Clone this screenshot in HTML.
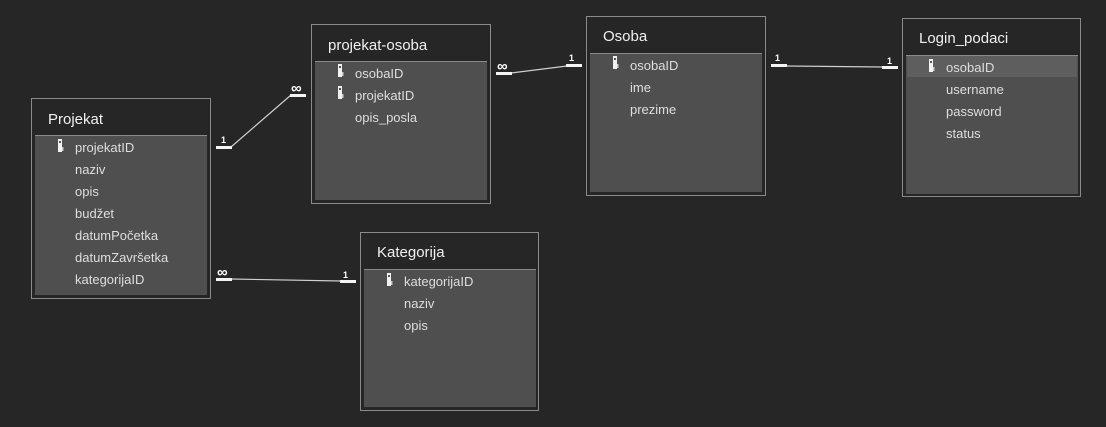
<!DOCTYPE html>
<html><head><meta charset="utf-8"><style>
html,body{margin:0;padding:0;background:#262626;width:1106px;height:427px;overflow:hidden}
svg{display:block}
text{font-family:"Liberation Sans",sans-serif;fill:#dedede}
.t{font-size:15px;fill:#f0f0f0}
.f{font-size:13px}
.c{font-size:9px;font-weight:bold;fill:#fff}
.i{font-size:15px;font-weight:bold;fill:#fff}
</style></head><body>
<svg width="1106" height="427" xmlns="http://www.w3.org/2000/svg">
<defs>
<g id="k"><rect x="0" y="0" width="4" height="13" fill="#f2f2f2"/><rect x="1" y="2" width="2" height="2" fill="#555"/><rect x="4" y="8" width="1.5" height="4" fill="#ccc"/></g>
</defs>
<rect x="31.5" y="98.5" width="179" height="200" fill="#262626" stroke="#8a8a8a"/>
<rect x="35" y="135" width="172" height="160" fill="#4f4f4f"/>
<line x1="35" y1="135.5" x2="207" y2="135.5" stroke="#8a8a8a"/>
<text class="t" x="48" y="124">Projekat</text>
<use href="#k" x="58" y="139"/>
<text class="f" x="75" y="152">projekatID</text>
<text class="f" x="75" y="174">naziv</text>
<text class="f" x="75" y="196">opis</text>
<text class="f" x="75" y="218">budžet</text>
<text class="f" x="75" y="240">datumPočetka</text>
<text class="f" x="75" y="262">datumZavršetka</text>
<text class="f" x="75" y="284">kategorijaID</text>
<rect x="311.5" y="24.5" width="179" height="179" fill="#262626" stroke="#8a8a8a"/>
<rect x="315" y="61" width="172" height="139" fill="#4f4f4f"/>
<line x1="315" y1="61.5" x2="487" y2="61.5" stroke="#8a8a8a"/>
<text class="t" x="328" y="50">projekat-osoba</text>
<use href="#k" x="338" y="64"/>
<use href="#k" x="338" y="86"/>
<text class="f" x="355" y="78">osobaID</text>
<text class="f" x="355" y="100">projekatID</text>
<text class="f" x="355" y="122">opis_posla</text>
<rect x="586.5" y="16.5" width="179" height="179" fill="#262626" stroke="#8a8a8a"/>
<rect x="590" y="53" width="172" height="139" fill="#4f4f4f"/>
<line x1="590" y1="53.5" x2="762" y2="53.5" stroke="#8a8a8a"/>
<text class="t" x="603" y="41">Osoba</text>
<use href="#k" x="613" y="56"/>
<text class="f" x="630" y="70">osobaID</text>
<text class="f" x="630" y="92">ime</text>
<text class="f" x="630" y="114">prezime</text>
<rect x="902.5" y="18.5" width="178" height="178" fill="#262626" stroke="#8a8a8a"/>
<rect x="906" y="55" width="172" height="139" fill="#4f4f4f"/>
<line x1="906" y1="55.5" x2="1078" y2="55.5" stroke="#8a8a8a"/>
<rect x="907" y="56" width="170" height="21" fill="#5e5e5e"/>
<text class="t" x="919" y="43">Login_podaci</text>
<use href="#k" x="929" y="59"/>
<text class="f" x="946" y="72">osobaID</text>
<text class="f" x="946" y="94">username</text>
<text class="f" x="946" y="116">password</text>
<text class="f" x="946" y="138">status</text>
<rect x="360.5" y="232.5" width="178" height="178" fill="#262626" stroke="#8a8a8a"/>
<rect x="364" y="269" width="172" height="138" fill="#4f4f4f"/>
<line x1="364" y1="269.5" x2="536" y2="269.5" stroke="#8a8a8a"/>
<text class="t" x="377" y="257">Kategorija</text>
<use href="#k" x="387" y="273"/>
<text class="f" x="404" y="286">kategorijaID</text>
<text class="f" x="404" y="308">naziv</text>
<text class="f" x="404" y="330">opis</text>
<g stroke="#cfcfcf" stroke-width="1.2" fill="none">
<line x1="231" y1="147" x2="291" y2="95"/>
<line x1="511" y1="73" x2="567" y2="66"/>
<line x1="786" y1="66" x2="883" y2="67"/>
<line x1="231" y1="279" x2="341" y2="281"/>
</g>
<g fill="#f4f4f4">
<rect x="216" y="146" width="16" height="3"/>
<rect x="290" y="94" width="16" height="3"/>
<rect x="496" y="72" width="16" height="3"/>
<rect x="566" y="64" width="16" height="3"/>
<rect x="771" y="64" width="16" height="3"/>
<rect x="882" y="66" width="16" height="3"/>
<rect x="216" y="278" width="16" height="3"/>
<rect x="340" y="280" width="16" height="3"/>
</g>
<text class="c" x="221" y="143">1</text>
<text class="i" x="291" y="93">∞</text>
<text class="i" x="497" y="71">∞</text>
<text class="c" x="569" y="61">1</text>
<text class="c" x="775" y="61">1</text>
<text class="c" x="887" y="64">1</text>
<text class="i" x="217" y="277">∞</text>
<text class="c" x="343" y="278">1</text>
</svg>
</body></html>
